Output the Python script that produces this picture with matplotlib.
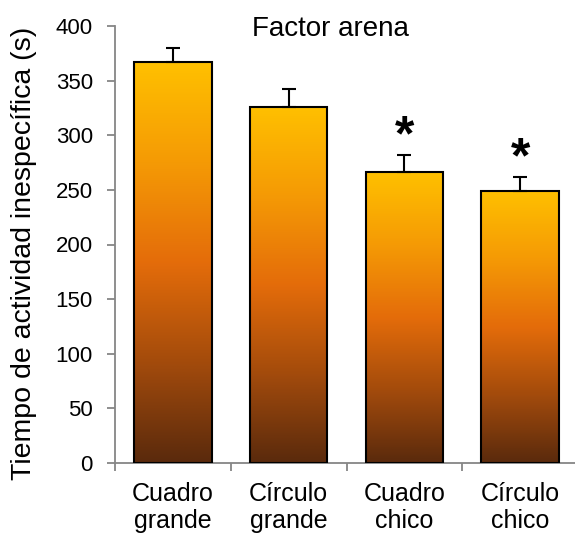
import matplotlib
matplotlib.use("Agg")
import matplotlib.pyplot as plt
import numpy as np
from matplotlib.colors import LinearSegmentedColormap

plt.rcParams["font.family"] = ["Liberation Sans", "DejaVu Sans"]

categories = ["Cuadro\ngrande", "Círculo\ngrande", "Cuadro\nchico", "Círculo\nchico"]
means = [367, 326, 266, 249]
errors = [13, 16, 16, 13]
significant = [False, False, True, True]

GRAY = "#868686"
grad = LinearSegmentedColormap.from_list(
    "bar", ["#5A2A0C", "#A34B0C", "#E46C0A", "#F59A05", "#FFC000"])

fig = plt.figure(figsize=(5.75, 5.37), dpi=100)
ax = fig.add_axes([115 / 575, 74 / 537, 463 / 575, 437 / 537])

x = np.arange(len(categories))
width = 0.67
bars = ax.bar(x, means, width, facecolor="none", edgecolor="black", linewidth=1.5, zorder=3)
g = np.linspace(0, 1, 256).reshape(-1, 1)
for b in bars:
    im = ax.imshow(g, cmap=grad, origin="lower", aspect="auto",
                   extent=(b.get_x(), b.get_x() + b.get_width(), 0, b.get_height()), zorder=2)
    im.set_clip_path(b)

ax.errorbar(x, means, yerr=[np.zeros(len(means)), errors], fmt="none", ecolor="black",
            elinewidth=1.5, capsize=5, capthick=1.5, zorder=4)

for xi, m, e, s in zip(x, means, errors, significant):
    if s:
        ax.annotate("*", (xi, m + e), xytext=(0, -4), textcoords="offset points",
                    ha="center", va="bottom", fontsize=36, fontweight="bold")

ax.set_xlim(-0.5, 3.5)
ax.set_ylim(0, 400)
ax.set_yticks(range(0, 401, 50))
ax.set_xticks(np.arange(-0.5, 4, 1))
ax.set_xticklabels([])
ax.set_xticks(x, minor=True)
ax.set_xticklabels(categories, minor=True, fontsize=18, linespacing=1.15)
ax.tick_params(axis="x", which="minor", length=0, pad=14)
ax.tick_params(axis="x", which="major", length=6, width=1.3, color=GRAY)
ax.tick_params(axis="y", length=6, width=1.3, color=GRAY, labelsize=16, pad=10)

for side in ["top", "right"]:
    ax.spines[side].set_visible(False)
for side in ["left", "bottom"]:
    ax.spines[side].set_color(GRAY)
    ax.spines[side].set_linewidth(1.3)

fig.text(24 / 575, 1 - 253 / 537, "Tiempo de actividad inespecífica (s)",
         rotation=90, ha="center", va="center", fontsize=20.5)
fig.text(330 / 575, 1 - 36 / 537, "Factor arena", ha="center", va="baseline", fontsize=20)

fig.savefig("out.png", dpi=100)
